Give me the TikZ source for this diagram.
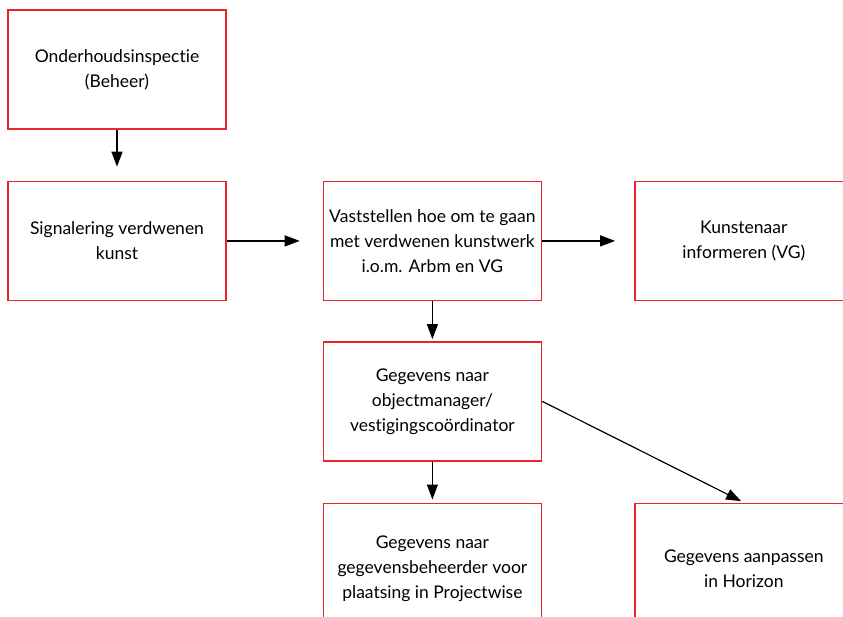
\documentclass[tikz,border=0pt]{standalone}
\usepackage{fontspec}
\setmainfont{Lato}[Ligatures=NoCommon]
\usepackage{xcolor}
\usetikzlibrary{arrows.meta, positioning}

\definecolor{kaderrood}{RGB}{232,36,40}

\begin{document}
\begin{tikzpicture}[x=1pt, y=1pt, node distance=40pt,
    stap/.style={rectangle, draw=kaderrood, line width=1.4pt, minimum width=218pt, minimum height=119pt,
        align=center, font=\fontsize{17.5}{25}\selectfont, inner sep=0pt},
    pijl/.style={-{Triangle[length=15pt, width=11pt]}, line width=1.2pt}]
    \useasboundingbox (0,0) rectangle (843,-616);
    \clip (0,0) rectangle (843,-616);

    \node[stap] (inspectie) at (117,-69.5) {Onderhoudsinspectie\\(Beheer)};
    \node[stap, below=51pt of inspectie] (signalering) {Signalering verdwenen\\kunst};
    \node[stap, right=96pt of signalering] (vaststellen) {Vaststellen hoe om te gaan\\met verdwenen kunstwerk\\i.o.m. Arbm en VG};
    \node[stap, right=92pt of vaststellen] (kunstenaar) {Kunstenaar\\informeren (VG)};
    \node[stap, below=40pt of vaststellen] (objectmanager) {Gegevens naar\\objectmanager/\\vestigingscoördinator};
    \node[stap, minimum height=131pt, below=41pt of objectmanager] (beheerder) {Gegevens naar\\gegevensbeheerder voor\\plaatsing in Projectwise};
    \node[stap, minimum height=131pt, right=92pt of beheerder] (horizon) {Gegevens aanpassen\\in Horizon};

    \draw[pijl, shorten >=14pt] (inspectie) -- (signalering);
    \draw[pijl, shorten >=23pt] (signalering) -- (vaststellen);
    \draw[pijl, shorten >=19pt] (vaststellen) -- (kunstenaar);
    \draw[pijl, shorten >=2pt] (vaststellen) -- (objectmanager);
    \draw[pijl, shorten >=3pt] (objectmanager) -- (beheerder);
    \draw[pijl, shorten >=3pt] (objectmanager.east) -- (horizon.north);
\end{tikzpicture}
\end{document}
